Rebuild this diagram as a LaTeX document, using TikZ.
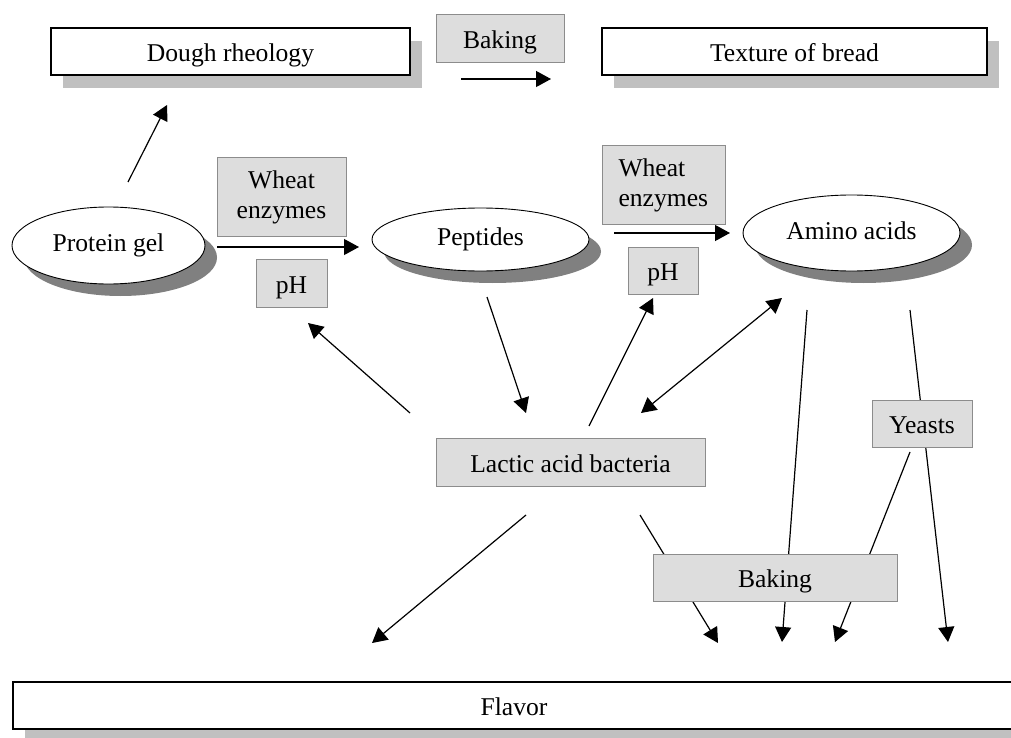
\documentclass[tikz,border=0pt]{standalone}
\usepackage{fontspec}
\setmainfont{Liberation Serif}
\usetikzlibrary{arrows.meta,shapes.geometric,shadows}
\definecolor{fl_fill}{RGB}{221, 221, 221}
\definecolor{fl_line}{RGB}{140, 140, 140}
\definecolor{fl_shade}{RGB}{192, 192, 192}
\definecolor{fl_dark}{RGB}{128, 128, 128}
\pgfdeclarelayer{bg}
\pgfsetlayers{bg,main}
\tikzstyle{txt}=[font=\fontsize{25.6}{30}\selectfont,inner sep=0pt]
\tikzstyle{one}=[text height=21pt,text depth=1pt]
\tikzstyle{wb}=[rectangle,fill=white,draw=black,line width=1.3pt,
  minimum height=47pt,txt,one,
  drop shadow={shadow xshift=12pt,shadow yshift=-13pt,fill=fl_shade,opacity=1}]
\tikzstyle{gb}=[rectangle,fill=fl_fill,draw=fl_line,line width=1pt,
  minimum height=47pt,txt]
\tikzstyle{ov}=[ellipse,fill=white,draw=black,line width=0.9pt,txt,
  text height=17pt,text depth=5pt,
  drop shadow={shadow xshift=12pt,shadow yshift=-12pt,fill=fl_dark,opacity=1}]
\tikzstyle{ar}=[line width=1.2pt,-{Triangle[length=15pt,width=16pt]}]
\tikzstyle{ar2}=[line width=1.2pt,{Triangle[length=15pt,width=16pt]}-{Triangle[length=15pt,width=16pt]}]
\tikzstyle{none}=[]

\begin{document}
\begin{tikzpicture}[x=1pt,y=-1pt]
            \useasboundingbox (0,0) rectangle (1011,738);
            \node [style=wb,minimum width=359pt] (0) at (230.5,51.5) {Dough rheology};
            \node [style=gb,one,minimum width=128pt,minimum height=48pt] (1) at (500,39) {Baking};
            \node [style=wb,minimum width=385pt] (2) at (794.5,51.5) {Texture of bread};
            \node [style=ov,minimum width=193pt,minimum height=77pt] (3) at (108.5,245.5) {Protein gel};
            \node [style=gb,minimum width=129pt,minimum height=78pt,align=center] (4) at (281.5,197) {Wheat\\enzymes};
            \node [style=gb,one,minimum width=71pt,minimum height=48pt] (5) at (291.5,283) {pH};
            \node [style=ov,minimum width=217pt,minimum height=63pt] (6) at (480.5,239.5) {Peptides};
            \node [style=gb,minimum width=123pt,minimum height=79pt,text width=90pt,align=left] (7) at (663.5,185) {Wheat\\enzymes};
            \node [style=gb,one,minimum width=70pt] (8) at (663,270.5) {pH};
            \node [style=ov,minimum width=217pt,minimum height=76pt] (9) at (851.5,233) {Amino acids};
            \node [style=gb,one,minimum width=269pt,minimum height=48pt] (10) at (570.5,462) {Lactic acid bacteria};
            \node [style=gb,one,minimum width=100pt] (11) at (922,423.5) {Yeasts};
            \node [style=gb,one,minimum width=244pt] (12) at (775,577.5) {Baking};
            \node [style=wb,minimum width=1010pt] (13) at (518,705.5) {\hspace*{-8pt}Flavor};
            \node [style=none] (20) at (128,182) {};
            \node [style=none] (21) at (167,105) {};
            \node [style=none] (22) at (461,79) {};
            \node [style=none] (23) at (551,79) {};
            \node [style=none] (24) at (217,247) {};
            \node [style=none] (25) at (359,247) {};
            \node [style=none] (26) at (614,233) {};
            \node [style=none] (27) at (730,233) {};
            \node [style=none] (28) at (487,297) {};
            \node [style=none] (29) at (526,413) {};
            \node [style=none] (30) at (410,413) {};
            \node [style=none] (31) at (308,323) {};
            \node [style=none] (32) at (589,426) {};
            \node [style=none] (33) at (653,298) {};
            \node [style=none] (34) at (641,413) {};
            \node [style=none] (35) at (782,298) {};
            \node [style=none] (36) at (807,310) {};
            \node [style=none] (37) at (782,642) {};
            \node [style=none] (38) at (910,310) {};
            \node [style=none] (39) at (948,642) {};
            \node [style=none] (40) at (910,452) {};
            \node [style=none] (41) at (835,642) {};
            \node [style=none] (42) at (640,515) {};
            \node [style=none] (43) at (718,643) {};
            \node [style=none] (44) at (526,515) {};
            \node [style=none] (45) at (372,643) {};
            \begin{pgfonlayer}{bg}
            \draw [style=ar] (20.center) to (21.center);
            \draw [style=ar] (22.center) to (23.center);
            \draw [style=ar] (24.center) to (25.center);
            \draw [style=ar] (26.center) to (27.center);
            \draw [style=ar] (28.center) to (29.center);
            \draw [style=ar] (30.center) to (31.center);
            \draw [style=ar] (32.center) to (33.center);
            \draw [style=ar2] (34.center) to (35.center);
            \draw [style=ar] (36.center) to (37.center);
            \draw [style=ar] (38.center) to (39.center);
            \draw [style=ar] (40.center) to (41.center);
            \draw [style=ar] (42.center) to (43.center);
            \draw [style=ar] (44.center) to (45.center);
            \end{pgfonlayer}
    \end{tikzpicture}
\end{document}
